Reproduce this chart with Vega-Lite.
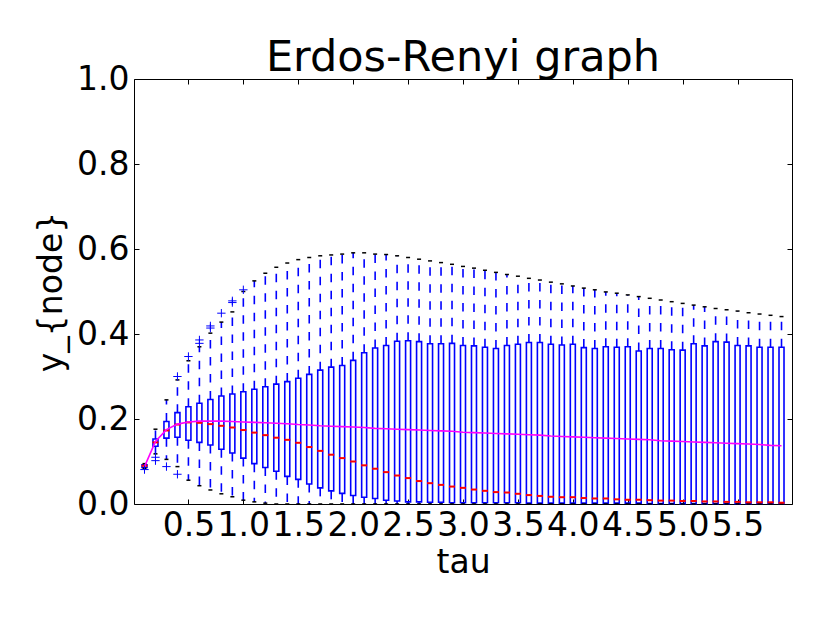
{
  "$schema": "https://vega.github.io/schema/vega-lite/v6.json",
  "width": 658,
  "height": 425,
  "autosize": {"type": "none"},
  "padding": {"left": 134, "top": 79, "right": 38, "bottom": 119},
  "background": "white",
  "title": {"text": "Erdos-Renyi graph", "fontSize": 43, "font": "DejaVu Sans", "fontWeight": "normal", "color": "black", "anchor": "middle", "frame": "group", "baseline": "bottom", "offset": 0, "dy": 60},
  "datasets": {
    "boxes": [
      {"tau": 0.1, "low": 0.084, "q1": 0.086, "med": 0.090, "q3": 0.092, "high": 0.095, "mean": 0.088},
      {"tau": 0.2, "low": 0.118, "q1": 0.136, "med": 0.145, "q3": 0.153, "high": 0.176, "mean": 0.147},
      {"tau": 0.3, "low": 0.105, "q1": 0.155, "med": 0.173, "q3": 0.194, "high": 0.245, "mean": 0.175},
      {"tau": 0.4, "low": 0.088, "q1": 0.157, "med": 0.187, "q3": 0.215, "high": 0.292, "mean": 0.188},
      {"tau": 0.5, "low": 0.056, "q1": 0.150, "med": 0.192, "q3": 0.229, "high": 0.337, "mean": 0.193},
      {"tau": 0.6, "low": 0.043, "q1": 0.145, "med": 0.191, "q3": 0.237, "high": 0.370, "mean": 0.195},
      {"tau": 0.7, "low": 0.033, "q1": 0.139, "med": 0.188, "q3": 0.246, "high": 0.402, "mean": 0.195},
      {"tau": 0.8, "low": 0.024, "q1": 0.129, "med": 0.184, "q3": 0.254, "high": 0.428, "mean": 0.195},
      {"tau": 0.9, "low": 0.017, "q1": 0.120, "med": 0.180, "q3": 0.259, "high": 0.452, "mean": 0.194},
      {"tau": 1.0, "low": 0.009, "q1": 0.108, "med": 0.174, "q3": 0.264, "high": 0.500, "mean": 0.193},
      {"tau": 1.1, "low": 0.005, "q1": 0.095, "med": 0.168, "q3": 0.270, "high": 0.525, "mean": 0.192},
      {"tau": 1.2, "low": 0.002, "q1": 0.086, "med": 0.162, "q3": 0.276, "high": 0.543, "mean": 0.191},
      {"tau": 1.3, "low": 0.0, "q1": 0.077, "med": 0.156, "q3": 0.282, "high": 0.557, "mean": 0.190},
      {"tau": 1.4, "low": 0.0, "q1": 0.065, "med": 0.151, "q3": 0.288, "high": 0.567, "mean": 0.189},
      {"tau": 1.5, "low": 0.0, "q1": 0.058, "med": 0.144, "q3": 0.296, "high": 0.575, "mean": 0.187},
      {"tau": 1.6, "low": 0.0, "q1": 0.047, "med": 0.134, "q3": 0.305, "high": 0.580, "mean": 0.186},
      {"tau": 1.7, "low": 0.0, "q1": 0.038, "med": 0.125, "q3": 0.315, "high": 0.584, "mean": 0.184},
      {"tau": 1.8, "low": 0.0, "q1": 0.031, "med": 0.116, "q3": 0.322, "high": 0.586, "mean": 0.183},
      {"tau": 1.9, "low": 0.0, "q1": 0.025, "med": 0.108, "q3": 0.326, "high": 0.588, "mean": 0.182},
      {"tau": 2.0, "low": 0.0, "q1": 0.020, "med": 0.100, "q3": 0.338, "high": 0.591, "mean": 0.181},
      {"tau": 2.1, "low": 0.0, "q1": 0.016, "med": 0.091, "q3": 0.356, "high": 0.591, "mean": 0.180},
      {"tau": 2.2, "low": 0.0, "q1": 0.013, "med": 0.083, "q3": 0.367, "high": 0.588, "mean": 0.178},
      {"tau": 2.3, "low": 0.0, "q1": 0.009, "med": 0.075, "q3": 0.373, "high": 0.587, "mean": 0.177},
      {"tau": 2.4, "low": 0.0, "q1": 0.007, "med": 0.067, "q3": 0.383, "high": 0.584, "mean": 0.176},
      {"tau": 2.5, "low": 0.0, "q1": 0.005, "med": 0.061, "q3": 0.384, "high": 0.580, "mean": 0.175},
      {"tau": 2.6, "low": 0.0, "q1": 0.005, "med": 0.054, "q3": 0.382, "high": 0.576, "mean": 0.174},
      {"tau": 2.7, "low": 0.0, "q1": 0.004, "med": 0.049, "q3": 0.377, "high": 0.572, "mean": 0.173},
      {"tau": 2.8, "low": 0.0, "q1": 0.004, "med": 0.045, "q3": 0.377, "high": 0.568, "mean": 0.172},
      {"tau": 2.9, "low": 0.0, "q1": 0.003, "med": 0.041, "q3": 0.378, "high": 0.564, "mean": 0.171},
      {"tau": 3.0, "low": 0.0, "q1": 0.003, "med": 0.038, "q3": 0.373, "high": 0.559, "mean": 0.169},
      {"tau": 3.1, "low": 0.0, "q1": 0.003, "med": 0.034, "q3": 0.372, "high": 0.555, "mean": 0.168},
      {"tau": 3.2, "low": 0.0, "q1": 0.003, "med": 0.031, "q3": 0.369, "high": 0.550, "mean": 0.167},
      {"tau": 3.3, "low": 0.0, "q1": 0.003, "med": 0.028, "q3": 0.366, "high": 0.545, "mean": 0.166},
      {"tau": 3.4, "low": 0.0, "q1": 0.003, "med": 0.027, "q3": 0.373, "high": 0.540, "mean": 0.165},
      {"tau": 3.5, "low": 0.0, "q1": 0.003, "med": 0.024, "q3": 0.376, "high": 0.536, "mean": 0.164},
      {"tau": 3.6, "low": 0.0, "q1": 0.002, "med": 0.021, "q3": 0.380, "high": 0.531, "mean": 0.163},
      {"tau": 3.7, "low": 0.0, "q1": 0.002, "med": 0.019, "q3": 0.380, "high": 0.527, "mean": 0.162},
      {"tau": 3.8, "low": 0.0, "q1": 0.002, "med": 0.017, "q3": 0.376, "high": 0.522, "mean": 0.160},
      {"tau": 3.9, "low": 0.0, "q1": 0.002, "med": 0.016, "q3": 0.374, "high": 0.518, "mean": 0.159},
      {"tau": 4.0, "low": 0.0, "q1": 0.002, "med": 0.016, "q3": 0.376, "high": 0.513, "mean": 0.158},
      {"tau": 4.1, "low": 0.0, "q1": 0.002, "med": 0.014, "q3": 0.368, "high": 0.508, "mean": 0.157},
      {"tau": 4.2, "low": 0.0, "q1": 0.002, "med": 0.013, "q3": 0.366, "high": 0.504, "mean": 0.156},
      {"tau": 4.3, "low": 0.0, "q1": 0.002, "med": 0.013, "q3": 0.370, "high": 0.499, "mean": 0.155},
      {"tau": 4.4, "low": 0.0, "q1": 0.002, "med": 0.011, "q3": 0.369, "high": 0.496, "mean": 0.154},
      {"tau": 4.5, "low": 0.0, "q1": 0.002, "med": 0.010, "q3": 0.370, "high": 0.492, "mean": 0.153},
      {"tau": 4.6, "low": 0.0, "q1": 0.002, "med": 0.010, "q3": 0.360, "high": 0.488, "mean": 0.152},
      {"tau": 4.7, "low": 0.0, "q1": 0.001, "med": 0.009, "q3": 0.366, "high": 0.484, "mean": 0.151},
      {"tau": 4.8, "low": 0.0, "q1": 0.001, "med": 0.008, "q3": 0.366, "high": 0.480, "mean": 0.149},
      {"tau": 4.9, "low": 0.0, "q1": 0.001, "med": 0.008, "q3": 0.363, "high": 0.476, "mean": 0.148},
      {"tau": 5.0, "low": 0.0, "q1": 0.001, "med": 0.007, "q3": 0.362, "high": 0.472, "mean": 0.147},
      {"tau": 5.1, "low": 0.0, "q1": 0.001, "med": 0.007, "q3": 0.377, "high": 0.468, "mean": 0.146},
      {"tau": 5.2, "low": 0.0, "q1": 0.001, "med": 0.006, "q3": 0.372, "high": 0.464, "mean": 0.145},
      {"tau": 5.3, "low": 0.0, "q1": 0.001, "med": 0.006, "q3": 0.382, "high": 0.460, "mean": 0.144},
      {"tau": 5.4, "low": 0.0, "q1": 0.001, "med": 0.005, "q3": 0.381, "high": 0.457, "mean": 0.143},
      {"tau": 5.5, "low": 0.0, "q1": 0.001, "med": 0.005, "q3": 0.373, "high": 0.454, "mean": 0.142},
      {"tau": 5.6, "low": 0.0, "q1": 0.001, "med": 0.004, "q3": 0.372, "high": 0.450, "mean": 0.141},
      {"tau": 5.7, "low": 0.0, "q1": 0.001, "med": 0.004, "q3": 0.369, "high": 0.447, "mean": 0.140},
      {"tau": 5.8, "low": 0.0, "q1": 0.001, "med": 0.004, "q3": 0.369, "high": 0.444, "mean": 0.138},
      {"tau": 5.9, "low": 0.0, "q1": 0.001, "med": 0.003, "q3": 0.369, "high": 0.441, "mean": 0.137}
    ],
    "fliers": [
      {"tau": 0.1, "y": 0.081},
      {"tau": 0.2, "y": 0.110},
      {"tau": 0.2, "y": 0.102},
      {"tau": 0.3, "y": 0.088},
      {"tau": 0.4, "y": 0.070},
      {"tau": 0.4, "y": 0.300},
      {"tau": 0.5, "y": 0.347},
      {"tau": 0.6, "y": 0.386},
      {"tau": 0.6, "y": 0.378},
      {"tau": 0.7, "y": 0.419},
      {"tau": 0.7, "y": 0.414},
      {"tau": 0.8, "y": 0.449},
      {"tau": 0.9, "y": 0.478},
      {"tau": 0.9, "y": 0.474},
      {"tau": 1.0, "y": 0.504}
    ]
  },
  "layer": [
    {
      "data": {"name": "boxes"},
      "encoding": {
        "x": {
          "field": "tau", "type": "quantitative",
          "scale": {"domain": [0.05, 5.95], "nice": false, "zero": false},
          "axis": {
            "orient": "bottom",
            "values": [0.5, 1.0, 1.5, 2.0, 2.5, 3.0, 3.5, 4.0, 4.5, 5.0, 5.5],
            "format": ".1f",
            "title": "tau",
            "titlePadding": 4
          }
        }
      },
      "layer": [
        {
          "mark": {"type": "rule", "color": "#0000ff", "strokeWidth": 1.6, "strokeDash": [8.5, 8.5]},
          "encoding": {
            "y": {"field": "q3", "type": "quantitative", "title": "y_{node}",
                  "scale": {"domain": [0, 1], "nice": false, "zero": true},
                  "axis": {"orient": "left", "values": [0, 0.2, 0.4, 0.6, 0.8, 1.0], "format": ".1f", "titlePadding": 8}},
            "y2": {"field": "high"}
          }
        },
        {
          "mark": {"type": "rule", "color": "#0000ff", "strokeWidth": 1.6, "strokeDash": [8.5, 8.5]},
          "encoding": {
            "y": {"field": "q1", "type": "quantitative", "title": "y_{node}"},
            "y2": {"field": "low"}
          }
        },
        {
          "mark": {"type": "bar", "orient": "vertical", "width": 5, "fill": "white", "fillOpacity": 0, "stroke": "#0000ff", "strokeWidth": 1.6},
          "encoding": {
            "y": {"field": "q1", "type": "quantitative", "title": "y_{node}"},
            "y2": {"field": "q3"}
          }
        },
        {
          "mark": {"type": "tick", "orient": "horizontal", "color": "black", "size": 4, "thickness": 1.5, "opacity": 1},
          "encoding": {
            "y": {"field": "high", "type": "quantitative", "title": "y_{node}"}
          }
        },
        {
          "mark": {"type": "tick", "orient": "horizontal", "color": "black", "size": 4, "thickness": 1.5, "opacity": 1},
          "encoding": {
            "y": {"field": "low", "type": "quantitative", "title": "y_{node}"}
          }
        },
        {
          "mark": {"type": "tick", "orient": "horizontal", "color": "#ff0000", "size": 6, "thickness": 2, "opacity": 1},
          "encoding": {
            "y": {"field": "med", "type": "quantitative", "title": "y_{node}"}
          }
        },
        {
          "mark": {"type": "line", "color": "#ff00ff", "strokeWidth": 1.6},
          "encoding": {
            "y": {"field": "mean", "type": "quantitative", "title": "y_{node}"}
          }
        },
        {
          "data": {"name": "fliers"},
          "mark": {"type": "point", "shape": "M-1,0L1,0M0,-1L0,1", "filled": false, "stroke": "#0000ff", "strokeWidth": 1, "size": 70, "opacity": 1},
          "encoding": {
            "y": {"field": "y", "type": "quantitative", "title": "y_{node}"}
          }
        }
      ]
    },
    {
      "data": {"name": "boxes"},
      "mark": {"type": "point", "opacity": 0},
      "encoding": {
        "x": {"field": "tau", "type": "quantitative",
              "axis": {"orient": "top", "values": [0.5, 1.0, 1.5, 2.0, 2.5, 3.0, 3.5, 4.0, 4.5, 5.0, 5.5], "labels": false, "title": null}},
        "y": {"field": "mean", "type": "quantitative",
              "axis": {"orient": "right", "values": [0, 0.2, 0.4, 0.6, 0.8, 1.0], "labels": false, "title": null}}
      }
    }
  ],
  "resolve": {"axis": {"x": "independent", "y": "independent"}},
  "config": {
    "view": {"stroke": "black", "strokeWidth": 1},
    "axis": {
      "grid": false,
      "domain": false,
      "tickColor": "black",
      "tickSize": -5,
      "tickWidth": 1,
      "labelFont": "DejaVu Sans",
      "labelFontSize": 33,
      "labelColor": "black",
      "labelPadding": 10,
      "labelOverlap": false,
      "labelFlush": false,
      "titleFont": "DejaVu Sans",
      "titleFontSize": 33,
      "titleFontWeight": "normal",
      "titleColor": "black"
    }
  }
}
